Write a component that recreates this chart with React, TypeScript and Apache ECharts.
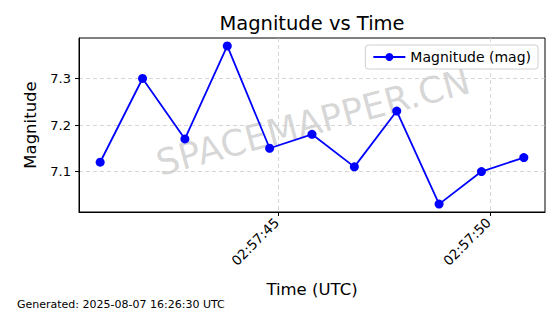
import React, { useEffect, useRef } from "react";
import * as echarts from "echarts";

const secondsOffsets = [40.79, 41.79, 42.79, 43.79, 44.79, 45.79, 46.79, 47.79, 48.79, 49.79, 50.79];
const magnitudes = [7.12, 7.3, 7.17, 7.37, 7.15, 7.18, 7.11, 7.23, 7.03, 7.1, 7.13];
const xTickValues = [45, 50];
const xTickLabels: Record<number, string> = { 45: "02:57:45", 50: "02:57:50" };
const yTickValues = [7.1, 7.2, 7.3];

const FONT = "DejaVu Sans";

export default function App() {
  const ref = useRef<HTMLDivElement>(null);
  useEffect(() => {
    if (!ref.current) return;
    const chart = echarts.init(ref.current, undefined, { renderer: "svg" });
    chart.setOption({
      animation: false,
      backgroundColor: "#fff",
      textStyle: { fontFamily: FONT },
      legend: {
        right: 22,
        top: 45,
        itemWidth: 32,
        itemHeight: 10,
        itemGap: 6,
        padding: [5, 7, 5, 7],
        borderColor: "#d0d0d0",
        borderWidth: 1,
        borderRadius: 3,
        backgroundColor: "rgba(255,255,255,0.8)",
        textStyle: { fontFamily: FONT, fontSize: 14, color: "#000" },
        data: ["Magnitude (mag)"],
      },
      grid: {
        left: 79,
        right: 15,
        top: 38,
        bottom: 102,
        show: true,
        borderColor: "#000",
        borderWidth: 1,
        containLabel: false,
      },
      xAxis: {
        type: "value",
        min: 40.29,
        max: 51.29,
        name: "Time (UTC)",
        nameLocation: "middle",
        nameGap: 69,
        nameTextStyle: { fontFamily: FONT, fontSize: 16.5, color: "#000" },
        axisLine: { show: true, lineStyle: { color: "#000", width: 1 } },
        axisTick: { show: true, customValues: xTickValues, length: 4, lineStyle: { color: "#000" } },
        axisLabel: {
          customValues: xTickValues,
          rotate: 45,
          margin: 6,
          padding: [0, 3, 0, 0],
          fontFamily: FONT,
          fontSize: 13.5,
          color: "#000",
          formatter: (v: number) => xTickLabels[Math.round(v)] ?? "",
        },
        splitLine: { show: true, lineStyle: { color: "#cccccc", type: [4, 3], width: 0.8 } },
      },
      yAxis: {
        type: "value",
        min: 7.013,
        max: 7.387,
        name: "Magnitude",
        nameLocation: "middle",
        nameGap: 40,
        nameTextStyle: { fontFamily: FONT, fontSize: 16.5, color: "#000" },
        axisLine: { show: true, lineStyle: { color: "#000", width: 1 } },
        axisTick: { show: true, customValues: yTickValues, length: 4, lineStyle: { color: "#000" } },
        axisLabel: {
          customValues: yTickValues,
          margin: 8,
          fontFamily: FONT,
          fontSize: 13,
          color: "#000",
          formatter: (v: number) => v.toFixed(1),
        },
        splitLine: { show: true, lineStyle: { color: "#cccccc", type: [4, 3], width: 0.8 } },
      },
      graphic: [
        {
          type: "text",
          x: 312,
          y: 23,
          silent: true,
          style: {
            text: "Magnitude vs Time",
            fontFamily: FONT,
            fontSize: 19.5,
            fill: "#000",
            align: "center",
            verticalAlign: "middle",
          },
        },
        {
          type: "text",
          x: 313,
          y: 122,
          rotation: (15 * Math.PI) / 180,
          z: 0,
          silent: true,
          style: {
            text: "SPACEMAPPER.CN",
            fontFamily: FONT,
            fontSize: 36,
            fill: "rgba(128,128,128,0.33)",
            align: "center",
            verticalAlign: "middle",
          },
        },
        {
          type: "text",
          left: 17,
          top: 299,
          style: {
            text: "Generated: 2025-08-07 16:26:30 UTC",
            fontFamily: FONT,
            fontSize: 11,
            fill: "#000",
          },
        },
      ],
      series: [
        {
          name: "Magnitude (mag)",
          type: "line",
          data: secondsOffsets.map((s, i) => [s, magnitudes[i]]),
          symbol: "circle",
          symbolSize: 9,
          lineStyle: { color: "#0000ff", width: 1.8 },
          itemStyle: { color: "#0000ff" },
          z: 5,
        },
      ],
    });
    return () => chart.dispose();
  }, []);
  return <div ref={ref} style={{ width: 560, height: 314, position: "absolute", left: 0, top: 0 }} />;
}
